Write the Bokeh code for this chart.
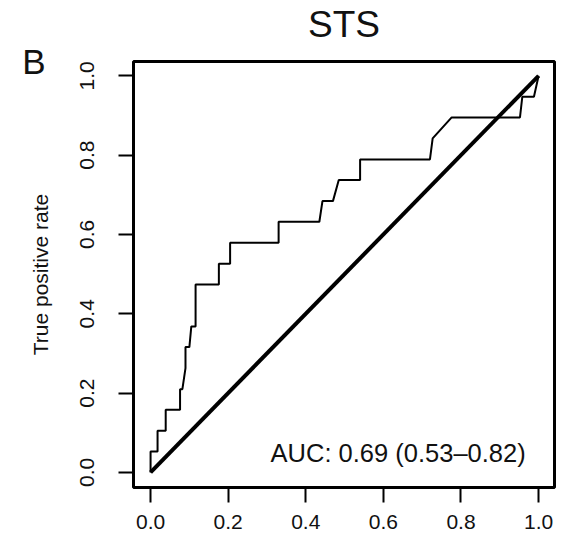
from bokeh.plotting import figure
from bokeh.models import Range1d, FixedTicker, PrintfTickFormatter, Label, LinearAxis
from bokeh.embed import file_html
from bokeh.resources import INLINE

# ROC curve vertices (false positive rate, true positive rate)
fpr = [0.0, 0.0, 0.018, 0.018, 0.039, 0.039, 0.076, 0.076, 0.082, 0.09, 0.09, 0.10, 0.105,
       0.116, 0.116, 0.176, 0.176, 0.205, 0.205, 0.33, 0.33, 0.435, 0.443, 0.47, 0.485,
       0.54, 0.54, 0.72, 0.727, 0.776, 0.952, 0.958, 0.988, 1.0]
tpr = [0.0, 0.053, 0.053, 0.105, 0.105, 0.158, 0.158, 0.21, 0.21, 0.263, 0.316, 0.316, 0.368,
       0.368, 0.474, 0.474, 0.526, 0.526, 0.579, 0.579, 0.632, 0.632, 0.684, 0.684, 0.737,
       0.737, 0.789, 0.789, 0.842, 0.895, 0.895, 0.947, 0.947, 1.0]
diag_x = [0.0, 1.0]
diag_y = [0.0, 1.0]
ticks = [0.0, 0.2, 0.4, 0.6, 0.8, 1.0]
title_text = "STS"
panel_letter = "B"
auc_text = "AUC: 0.69 (0.53\u20130.82)"
y_label = "True positive rate"

FONT = "Liberation Sans"
INK = "#111111"

p = figure(width=563, height=549, output_backend="svg", toolbar_location=None, title=None,
           x_range=Range1d(-0.044, 1.041), y_range=Range1d(-0.038, 1.036),
           min_border_left=133, min_border_right=9, min_border_top=60, min_border_bottom=62)
p.background_fill_color = "white"
p.border_fill_color = "white"
p.outline_line_color = "black"
p.outline_line_width = 3
p.grid.visible = False

for ax in (p.xaxis[0], p.yaxis[0]):
    ax.ticker = FixedTicker(ticks=ticks)
    ax.formatter = PrintfTickFormatter(format="%.1f")
    ax.axis_line_color = None
    ax.major_tick_line_color = "black"
    ax.major_tick_line_width = 2
    ax.major_tick_in = 0
    ax.major_tick_out = 15
    ax.minor_tick_line_color = None
    ax.major_label_text_font = FONT
    ax.major_label_text_font_size = "21px"
    ax.major_label_text_color = INK

p.xaxis.major_label_standoff = 12
p.yaxis.major_label_orientation = "vertical"
p.yaxis.major_label_standoff = 24
p.yaxis.axis_label = y_label
p.yaxis.axis_label_text_font = FONT
p.yaxis.axis_label_text_font_size = "21px"
p.yaxis.axis_label_text_font_style = "normal"
p.yaxis.axis_label_text_color = INK
p.yaxis.axis_label_standoff = 26

# chart title as the label of a tick-less axis above the frame
title_axis = LinearAxis(ticker=FixedTicker(ticks=[]), axis_line_color=None,
                        major_tick_line_color=None, minor_tick_line_color=None,
                        major_label_text_font_size="0px", major_tick_out=0,
                        axis_label=title_text, axis_label_text_font=FONT,
                        axis_label_text_font_size="37px", axis_label_text_font_style="normal",
                        axis_label_text_color=INK, axis_label_standoff=17)
p.add_layout(title_axis, "above")

# panel letter as the label of an extra, tick-less left axis
letter_axis = LinearAxis(ticker=FixedTicker(ticks=[]), axis_line_color=None,
                         major_tick_line_color=None, minor_tick_line_color=None,
                         major_label_text_font_size="0px",
                         axis_label=panel_letter, axis_label_text_font=FONT,
                         axis_label_text_font_size="35px", axis_label_text_font_style="normal",
                         axis_label_text_color=INK, axis_label_standoff=-20,
                         axis_label_orientation="horizontal", axis_label_align="end")
p.add_layout(letter_axis, "left")

p.line(diag_x, diag_y, line_color="black", line_width=4)
p.line(fpr, tpr, line_color="black", line_width=2)

p.add_layout(Label(x=0.638, y=0.05, text=auc_text, text_align="center",
                   text_baseline="alphabetic", text_font=FONT, text_font_size="25.5px",
                   text_color=INK))

open("out.html", "w").write(file_html(p, INLINE))
